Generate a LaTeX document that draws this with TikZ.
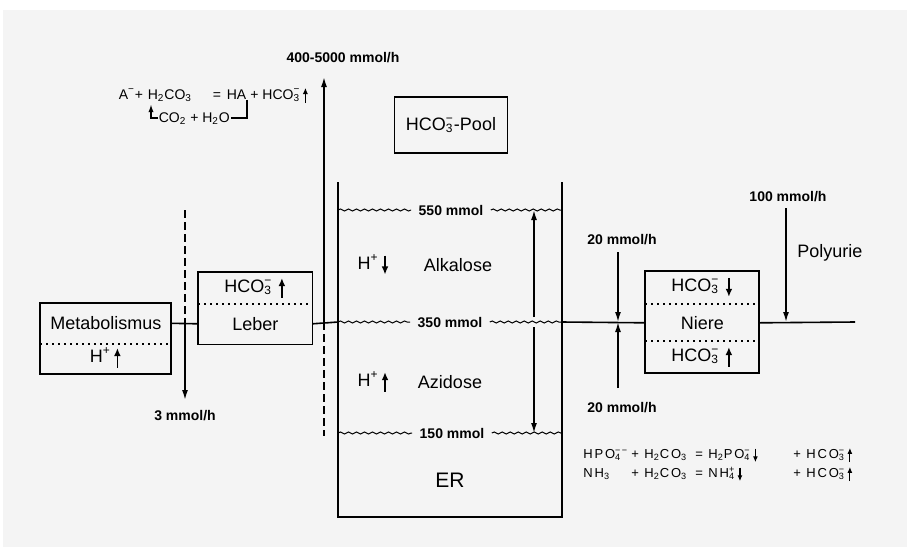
\documentclass[tikz,border=0pt]{standalone}
\usepackage{fontspec}
\setmainfont{Liberation Sans}
\newfontfamily\chemwide[LetterSpace=14]{Liberation Sans}
\usetikzlibrary{arrows.meta,decorations.pathmorphing,calc}

\newcommand{\ion}[2]{\rlap{\textsubscript{#1}}\textsuperscript{#2}}
\newcommand{\upar}{\,\tikz[baseline=0pt]\draw[line width=0.09em,-{Latex[length=0.45em,width=0.38em]}] (0pt,-0.3em) -- (0pt,0.8em);}
\newcommand{\dnar}{\,\tikz[baseline=0pt]\draw[line width=0.09em,-{Latex[length=0.45em,width=0.38em]}] (0pt,0.75em) -- (0pt,-0.3em);}

\begin{document}
\begin{tikzpicture}[x=0.5pt,y=-0.5pt,line width=0.8pt,
    big/.style={font=\fontsize{9}{10}\selectfont},
    small/.style={font=\fontsize{7}{8}\selectfont\bfseries},
    chem/.style={font=\fontsize{7}{8}\selectfont,inner sep=0pt},
    cell/.style={big,inner sep=0pt,anchor=north west},
    flow/.style={-{Latex[length=5pt,width=3pt]}},
    level/.style={decorate,decoration={snake,amplitude=0.5pt,segment length=4pt},line width=0.5pt}]
        \useasboundingbox (0,0) rectangle (910,558);
        \fill[gray!9] (3,10) rectangle (907,547);

        \coordinate (tl) at (338,182);
        \coordinate (bl) at (338,517);
        \coordinate (br) at (562,517);
        \coordinate (tr) at (562,182);
        \coordinate (pl) at (338,322);
        \coordinate (pr) at (562,322);
        \coordinate (endR) at (855,322);

        % Metabolismus, Leber, Niere
        \node[cell,minimum width=65pt,minimum height=19.5pt] (metab) at (40,303) {Metabolismus};
        \node[cell,minimum width=65pt,minimum height=15.5pt] (metabH) at (40,342) {H\textsuperscript{+}\upar};
        \draw (metab.north west) rectangle (metabH.south east);
        \draw[dotted,line width=1pt] (metab.south west) -- (metab.south east);

        \node[cell,minimum width=56.5pt,minimum height=15.5pt] (leberB) at (198,272) {HCO\ion{3}{−}\,\upar};
        \node[cell,minimum width=56.5pt,minimum height=20pt] (leber) at (198,303) {Leber};
        \draw (leberB.north west) rectangle (leber.south east);
        \draw[dotted,line width=1pt] (leberB.south west) -- (leberB.south east);

        \node[cell,minimum width=56.5pt,minimum height=16pt] (niereT) at (645,271) {HCO\ion{3}{−}\,\dnar};
        \node[cell,minimum width=56.5pt,minimum height=19pt] (niere) at (645,303) {Niere};
        \node[cell,minimum width=56.5pt,minimum height=15.5pt] (niereB) at (645,341) {HCO\ion{3}{−}\,\upar};
        \draw (niereT.north west) rectangle (niereB.south east);
        \draw[dotted,line width=1pt] (niereT.south west) -- (niereT.south east);
        \draw[dotted,line width=1pt] (niereB.north west) -- (niereB.north east);

        % pool
        \node[big,draw,minimum width=56.5pt,minimum height=28pt] (pool) at (451,125) {HCO\ion{3}{−}-Pool};
        \draw (tl) -- (bl) -- (br) -- (tr);
        \node[big,font=\fontsize{10.5}{12}\selectfont] (er) at (450,480) {ER};

        \draw (metab.east) -- (leber.west);
        \draw (leber.east) -- (pl);
        \draw (pr) -- (niere.west);
        \draw (niere.east) -- (endR);

        \node[small] (l550) at (451,210) {550 mmol};
        \node[small] (l350) at (450,322) {350 mmol};
        \node[small] (l150) at (452,433) {150 mmol};
        \foreach \l in {l550,l350,l150} {
            \draw[level] (\l.west -| tl) -- (\l.west);
            \draw[level] (\l.east) -- (\l.east -| tr);
        }

        \node[big] (hdown) at (373,265) {H\textsuperscript{+}\dnar};
        \node[big] (alk) at (458,265) {Alkalose};
        \node[big] (hup) at (373,382) {H\textsuperscript{+}\upar};
        \node[big] (azi) at (450,382) {Azidose};

        \coordinate (a1) at (534,317);
        \coordinate (a2) at (534,327);
        \draw[flow] (a1) -- (a1 |- l550);
        \draw[flow] (a2) -- (a2 |- l150);

        % fluxes
        \coordinate (d1) at (185,210);
        \coordinate (j1) at (185,322);
        \coordinate (d1e) at (185,400);
        \draw[dashed,dash pattern=on 4pt off 2pt] (d1) -- (j1);
        \draw[flow] (j1) -- (d1e);
        \node[small] (r3) at (185,416) {3 mmol/h};

        \coordinate (j2) at (324,322);
        \coordinate (u2) at (324,77);
        \coordinate (d2e) at (324,436);
        \draw[flow] (j2) -- (u2);
        \draw[dashed,dash pattern=on 4pt off 2pt] (j2) -- (d2e);
        \node[small] (r5000) at (343,58) {400-5000 mmol/h};

        \coordinate (j3) at (618,322);
        \coordinate (s3) at (618,252);
        \coordinate (e3) at (618,388);
        \draw[flow] (s3) -- (j3);
        \draw[flow] (e3) -- (j3);
        \node[small] (r20a) at (622,240) {20 mmol/h};
        \node[small] (r20b) at (622,408) {20 mmol/h};

        \coordinate (j4) at (786,322);
        \coordinate (s4) at (786,208);
        \draw[flow] (s4) -- (j4);
        \node[small] (r100) at (788,197) {100 mmol/h};
        \node[big,anchor=west] (poly) at (790,253) {Polyurie};

        % buffer reactions
        \node[chem,anchor=base west] (anion) at (118,99) {A\textsuperscript{−}};
        \node[chem,anchor=base west] (plus1) at (134,99) {+};
        \node[chem,anchor=base west] (acid) at (147,99) {H\textsubscript{2}CO\textsubscript{3}};
        \node[chem,anchor=base west] (eq1) at (212,99) {=};
        \node[chem,anchor=base west] (ha) at (226,99) {HA};
        \node[chem,anchor=base west] (hco3) at (250,99) {+ HCO\ion{3}{−}\upar};
        \node[chem,anchor=base west] (co2) at (158,122) {CO\textsubscript{2} + H\textsubscript{2}O};
        \draw[-{Latex[length=4pt,width=2.6pt]}] (co2.west) -| ($(acid.south west)+(4,2)$);
        \draw (ha.south east) |- (co2.east);

        \node[chem,anchor=west,font=\fontsize{6.5}{9.5}\chemwide] (renal) at (583,464) {%
            \begin{tabular}{@{}p{24pt}@{}p{32pt}@{}p{6.5pt}@{}p{42.5pt}@{}l@{}}
            HPO\ion{4}{−−} & + H\textsubscript{2}CO\textsubscript{3} & = & H\textsubscript{2}PO\ion{4}{−}\dnar & + HCO\ion{3}{−}\upar\\
            NH\textsubscript{3} & + H\textsubscript{2}CO\textsubscript{3} & = & NH\ion{4}{+}\dnar & + HCO\ion{3}{−}\upar
            \end{tabular}};
    \end{tikzpicture}
\end{document}
